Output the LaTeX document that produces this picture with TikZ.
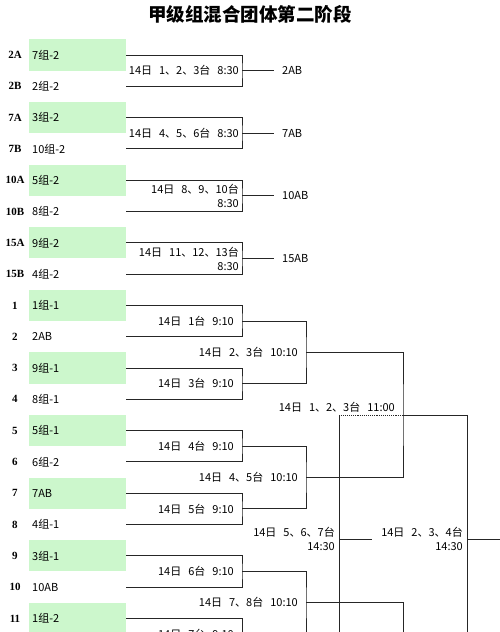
\documentclass[tikz,border=0pt]{standalone}
\usepackage{fontspec}
\setmainfont{Liberation Serif}
\newfontfamily\cjk{Noto Sans CJK SC}
\usetikzlibrary{positioning}
\definecolor{cellgreen}{HTML}{CCF7CC}
\newcommand\gap{\hspace{7pt}}

\begin{document}
\begin{tikzpicture}[
    x=1pt, y=-1pt,
    every node/.style={font=\cjk\fontsize{11}{14}\selectfont, inner sep=1pt},
    seed/.style={font=\bfseries\fontsize{11}{12}\selectfont},
    cell/.style={anchor=west, minimum height=31.3pt, inner ysep=0pt, inner xsep=3pt, text width=91pt, align=left},
    seeded/.style={cell, fill=cellgreen},
    match/.style={anchor=east, align=right},
    winner/.style={anchor=west, inner xsep=8pt},
    line/.style={draw=black!85, line width=0.9pt}
]
\clip (0,0) rectangle (500,632);

\node[font=\cjk\bfseries\fontsize{18.5}{20}\selectfont] (title) at (250,14) {甲级组混合团体第二阶段};

% seeds and entries
\node[seed] (s2A) at (15,55.0) {2A};    \node[seeded] (c2A) at (29,55.0) {7组-2};
\node[seed] (s2B) at (15,86.3) {2B};    \node[cell] (c2B) at (29,86.3) {2组-2};
\node[seed] (s7A) at (15,117.6) {7A};   \node[seeded] (c7A) at (29,117.6) {3组-2};
\node[seed] (s7B) at (15,148.9) {7B};   \node[cell] (c7B) at (29,148.9) {10组-2};
\node[seed] (s10A) at (15,180.2) {10A}; \node[seeded] (c10A) at (29,180.2) {5组-2};
\node[seed] (s10B) at (15,211.5) {10B}; \node[cell] (c10B) at (29,211.5) {8组-2};
\node[seed] (s15A) at (15,242.8) {15A}; \node[seeded] (c15A) at (29,242.8) {9组-2};
\node[seed] (s15B) at (15,274.1) {15B}; \node[cell] (c15B) at (29,274.1) {4组-2};
\node[seed] (s1) at (15,305.4) {1};     \node[seeded] (c1) at (29,305.4) {1组-1};
\node[seed] (s2) at (15,336.7) {2};     \node[cell] (c2) at (29,336.7) {2AB};
\node[seed] (s3) at (15,368.0) {3};     \node[seeded] (c3) at (29,368.0) {9组-1};
\node[seed] (s4) at (15,399.3) {4};     \node[cell] (c4) at (29,399.3) {8组-1};
\node[seed] (s5) at (15,430.6) {5};     \node[seeded] (c5) at (29,430.6) {5组-1};
\node[seed] (s6) at (15,461.9) {6};     \node[cell] (c6) at (29,461.9) {6组-2};
\node[seed] (s7) at (15,493.2) {7};     \node[seeded] (c7) at (29,493.2) {7AB};
\node[seed] (s8) at (15,524.5) {8};     \node[cell] (c8) at (29,524.5) {4组-1};
\node[seed] (s9) at (15,555.8) {9};     \node[seeded] (c9) at (29,555.8) {3组-1};
\node[seed] (s10) at (15,587.1) {10};   \node[cell] (c10) at (29,587.1) {10AB};
\node[seed] (s11) at (15,618.4) {11};   \node[seeded] (c11) at (29,618.4) {1组-2};

% first stage
\node[match] (m2AB) at (240,70.65) {14日\gap1、2、3台\gap8:30};
\node[match] (m7AB) at (240,133.25) {14日\gap4、5、6台\gap8:30};
\node[match] (m10AB) at (240,195.85) {14日\gap8、9、10台\\8:30};
\node[match] (m15AB) at (240,258.45) {14日\gap11、12、13台\\8:30};
\coordinate (j2AB) at (242,70.65);
\coordinate (j7AB) at (242,133.25);
\coordinate (j10AB) at (242,195.85);
\coordinate (j15AB) at (242,258.45);
\node[winner] (w2AB) at (274,70.65) {2AB};
\node[winner] (w7AB) at (274,133.25) {7AB};
\node[winner] (w10AB) at (274,195.85) {10AB};
\node[winner] (w15AB) at (274,258.45) {15AB};

\draw[line] (c2A.east) -| (j2AB) |- (c2B.east);
\draw[line] (c7A.east) -| (j7AB) |- (c7B.east);
\draw[line] (c10A.east) -| (j10AB) |- (c10B.east);
\draw[line] (c15A.east) -| (j15AB) |- (c15B.east);
\draw[line] (j2AB) -- (w2AB.west);
\draw[line] (j7AB) -- (w7AB.west);
\draw[line] (j10AB) -- (w10AB.west);
\draw[line] (j15AB) -- (w15AB.west);

% second stage
\node[match] (m1) at (235,321.05) {14日\gap1台\gap9:10};
\node[match] (m3) at (235,383.65) {14日\gap3台\gap9:10};
\node[match] (m5) at (235,446.25) {14日\gap4台\gap9:10};
\node[match] (m7) at (235,508.85) {14日\gap5台\gap9:10};
\node[match] (m9) at (235,571.45) {14日\gap6台\gap9:10};
\node[match] (m11) at (235,634.05) {14日\gap7台\gap9:10};
\coordinate (q1) at (242,321.05);
\coordinate (q3) at (242,383.65);
\coordinate (q5) at (242,446.25);
\coordinate (q7) at (242,508.85);
\coordinate (q9) at (242,571.45);
\coordinate (q11) at (242,634.05);

\draw[line] (c1.east) -| (q1) |- (c2.east);
\draw[line] (c3.east) -| (q3) |- (c4.east);
\draw[line] (c5.east) -| (q5) |- (c6.east);
\draw[line] (c7.east) -| (q7) |- (c8.east);
\draw[line] (c9.east) -| (q9) |- (c10.east);
\draw[line] (c11.east) -| (q11);

% third stage
\node[match] (n1) at (299,352.35) {14日\gap2、3台\gap10:10};
\node[match] (n5) at (299,477.55) {14日\gap4、5台\gap10:10};
\node[match] (n9) at (299,602.75) {14日\gap7、8台\gap10:10};
\coordinate (t1) at (306,352.35);
\coordinate (t5) at (306,477.55);
\coordinate (t9) at (306,602.75);

\draw[line] (q1) -| (t1) |- (q3);
\draw[line] (q5) -| (t5) |- (q7);
\draw[line] (q9) -| (t9) |- (q11);

% fourth stage
\node[match] (r1) at (396,407) {14日\gap1、2、3台\gap11:00};
\coordinate (f1) at (403,414.95);
\coordinate (f9) at (403,700);
\draw[line] (t1) -| (f1) |- (t5);
\draw[line] (t9) -| (f9);

% later rounds
\coordinate (g1) at (339,414.95);
\coordinate (g2) at (339,539.4);
\coordinate (g3) at (339,700);
\coordinate (g4) at (372,539.4);
\coordinate (h1) at (467,414.95);
\coordinate (h2) at (467,539.4);
\coordinate (h3) at (467,700);
\coordinate (h4) at (510,539.4);
\node[match] (x1) at (336,539.4) {14日\gap5、6、7台\\14:30};
\node[match] (x2) at (464,539.4) {14日\gap2、3、4台\\14:30};

\draw[line, densely dotted, line width=0.6pt] (f1) -- (g1);
\draw[line] (f1) -- (h1);
\draw[line] (g1) -- (g3);
\draw[line] (h1) -- (h3);
\draw[line] (g2) -- (g4);
\draw[line] (h2) -- (h4);
\end{tikzpicture}
\end{document}
